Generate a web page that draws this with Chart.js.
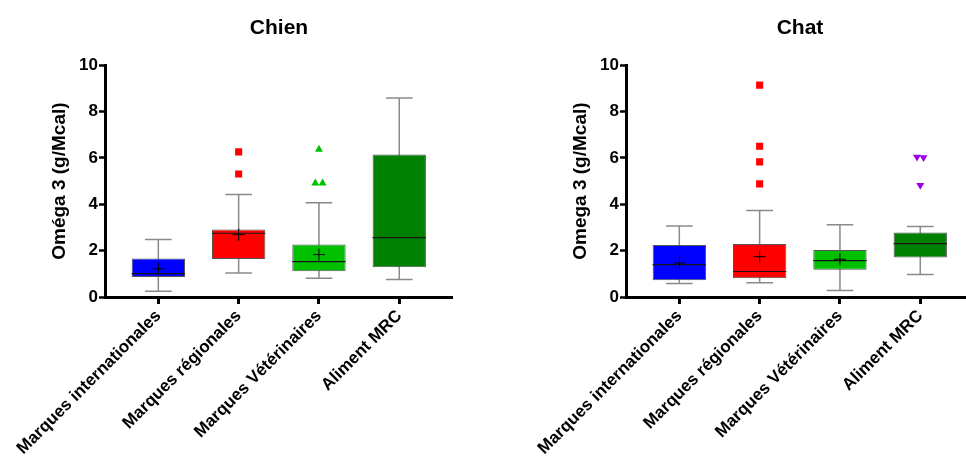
<!DOCTYPE html>
<html>
<head>
<meta charset="utf-8">
<script src="https://cdn.jsdelivr.net/npm/chart.js@4.4.1/dist/chart.umd.min.js"></script>
<style>
	html, body { margin: 0; padding: 0; background: #fff; }
	body { width: 966px; height: 459px; position: relative; overflow: hidden; }
	.panel { position: absolute; top: 0; height: 459px; overflow: hidden; }
	#left { left: 0; width: 521px; }
	#right { left: 521px; width: 445px; }
</style>
</head>
<body>
<div class="panel" id="left"><canvas id="chien" width="558" height="459"></canvas></div>
<div class="panel" id="right"><canvas id="chat" width="558" height="459"></canvas></div>
<script>
const categories = ['Marques internationales', 'Marques régionales', 'Marques Vétérinaires', 'Aliment MRC']
const boxColors = ['#0000FF', '#FF0000', '#00C000', '#008000']
const yTicks = [0, 2, 4, 6, 8, 10]

// Chien
const chienMin = [0.25, 1.04, 0.81, 0.75]
const chienQ1 = [0.86, 1.64, 1.11, 1.28]
const chienMedian = [1.01, 2.75, 1.53, 2.56]
const chienQ3 = [1.66, 2.91, 2.27, 6.15]
const chienMax = [2.48, 4.42, 4.07, 8.59]
const chienMean = [1.22, 2.69, 1.83, null]
const chienOutRegional = [{ x: 1, y: 6.26 }, { x: 1, y: 5.31 }]
const chienOutVeto = [{ x: 2, y: 6.37 }, { x: 1.955, y: 4.91 }, { x: 2.045, y: 4.91 }]
const chienOutMrc = []

// Chat
const chatMin = [0.58, 0.62, 0.28, 0.97]
const chatQ1 = [0.72, 0.81, 1.18, 1.70]
const chatMedian = [1.40, 1.10, 1.57, 2.30]
const chatQ3 = [2.24, 2.29, 2.03, 2.78]
const chatMax = [3.06, 3.73, 3.12, 3.04]
const chatMean = [1.47, 1.74, 1.63, null]
const chatOutRegional = [{ x: 1, y: 9.14 }, { x: 1, y: 6.50 }, { x: 1, y: 5.83 }, { x: 1, y: 4.88 }]
const chatOutVeto = []
const chatOutMrc = [{ x: 2.959, y: 6.04 }, { x: 3.041, y: 6.02 }, { x: 3, y: 4.82 }]

Chart.defaults.color = '#000'
Chart.defaults.font.family = "'Liberation Sans', Arial, sans-serif"
Chart.defaults.font.weight = 'bold'

// whiskers, medians and means, placed with the chart scales
const boxParts = {
	id: 'boxParts',
	beforeDatasetsDraw(chart, args, opts) {
		const { ctx, scales: { x, y } } = chart
		const bars = chart.getDatasetMeta(0).data
		ctx.save()
		ctx.strokeStyle = '#8a8a8a'
		ctx.lineWidth = 1.5
		opts.min.forEach((v, i) => {
			const px = x.getPixelForValue(i)
			const cap = bars[i].width / 4
			ctx.beginPath()
			ctx.moveTo(px, y.getPixelForValue(v))
			ctx.lineTo(px, y.getPixelForValue(opts.max[i]))
			ctx.moveTo(px - cap, y.getPixelForValue(v))
			ctx.lineTo(px + cap, y.getPixelForValue(v))
			ctx.moveTo(px - cap, y.getPixelForValue(opts.max[i]))
			ctx.lineTo(px + cap, y.getPixelForValue(opts.max[i]))
			ctx.stroke()
		})
		ctx.restore()
	},
	afterDatasetsDraw(chart, args, opts) {
		const { ctx, scales: { x, y } } = chart
		const bars = chart.getDatasetMeta(0).data
		ctx.save()
		ctx.strokeStyle = '#151515'
		ctx.lineWidth = 1.2
		opts.median.forEach((v, i) => {
			const px = x.getPixelForValue(i)
			const half = bars[i].width / 2
			const py = y.getPixelForValue(v)
			ctx.beginPath()
			ctx.moveTo(px - half, py)
			ctx.lineTo(px + half, py)
			ctx.stroke()
		})
		ctx.strokeStyle = '#000'
		ctx.lineWidth = 1
		opts.mean.forEach((v, i) => {
			if (v === null) return
			const px = x.getPixelForValue(i)
			const py = y.getPixelForValue(v)
			ctx.beginPath()
			ctx.moveTo(px - 6, py)
			ctx.lineTo(px + 6, py)
			ctx.moveTo(px, py - 6)
			ctx.lineTo(px, py + 6)
			ctx.stroke()
		})
		ctx.restore()
	},
}

function makeChart(id, title, yTitle, mins, q1s, medians, q3s, maxs, means, outRegional, outVeto, outMrc) {
	new Chart(document.getElementById(id), {
		type: 'bar',
		data: {
			datasets: [
				{
					type: 'bar',
					data: categories.map((c, i) => ({ x: i, y: [q1s[i], q3s[i]] })),
					backgroundColor: boxColors,
					borderColor: '#555',
					borderWidth: 1,
					borderSkipped: false,
					categoryPercentage: 1,
					barPercentage: 0.664,
				},
				{
					type: 'scatter',
					data: outRegional,
					pointStyle: 'rect',
					radius: 5,
					backgroundColor: '#FF0000',
					borderWidth: 0,
				},
				{
					type: 'scatter',
					data: outVeto,
					pointStyle: 'triangle',
					radius: 4.6,
					backgroundColor: '#00C000',
					borderWidth: 0,
				},
				{
					type: 'scatter',
					data: outMrc,
					pointStyle: 'triangle',
					rotation: 180,
					radius: 4.6,
					backgroundColor: '#9B00E8',
					borderWidth: 0,
				},
			],
		},
		options: {
			responsive: false,
			animation: false,
			layout: { padding: 0 },
			plugins: {
				legend: { display: false },
				tooltip: { enabled: false },
				title: {
					display: true,
					text: title,
					font: { size: 21, weight: 'bold' },
					padding: { top: 16, bottom: 24 },
				},
				boxParts: { min: mins, max: maxs, median: medians, mean: means },
			},
			scales: {
				x: {
					type: 'linear',
					min: -0.664,
					max: 3.664,
					bounds: 'data',
					offset: false,
					afterBuildTicks: (scale) => {
						scale.ticks = categories.map((c, i) => ({ value: i }))
					},
					afterFit: (scale) => {
						scale.height = 162
					},
					border: { color: '#000', width: 3 },
					grid: {
						offset: false,
						drawOnChartArea: false,
						color: '#000',
						tickLength: 7,
						tickWidth: 3,
					},
					ticks: {
						autoSkip: false,
						maxRotation: 45,
						minRotation: 45,
						padding: 2,
						font: { size: 17, weight: 'bold' },
						callback: (value) => categories[value] ?? '',
					},
				},
				y: {
					min: 0,
					max: 10,
					afterBuildTicks: (scale) => {
						scale.ticks = yTicks.map((v) => ({ value: v }))
					},
					afterFit: (scale) => {
						scale.width = 105
					},
					border: { color: '#000', width: 3 },
					grid: {
						drawOnChartArea: false,
						color: '#000',
						tickLength: 6,
						tickWidth: 2.5,
					},
					ticks: {
						padding: 1,
						font: { size: 17, weight: 'bold' },
					},
					title: {
						display: true,
						text: yTitle,
						font: { size: 19, weight: 'bold' },
						padding: { top: 48.6, bottom: 0 },
					},
				},
				pad: {
					position: 'right',
					display: true,
					afterFit: (scale) => {
						scale.width = 105.4
					},
					border: { display: false },
					grid: { display: false },
					ticks: { display: false },
				},
			},
		},
		plugins: [boxParts],
	})
}

makeChart('chien', 'Chien', 'Oméga 3 (g/Mcal)', chienMin, chienQ1, chienMedian, chienQ3, chienMax, chienMean, chienOutRegional, chienOutVeto, chienOutMrc)
makeChart('chat', 'Chat', 'Omega 3 (g/Mcal)', chatMin, chatQ1, chatMedian, chatQ3, chatMax, chatMean, chatOutRegional, chatOutVeto, chatOutMrc)
</script>
</body>
</html>
